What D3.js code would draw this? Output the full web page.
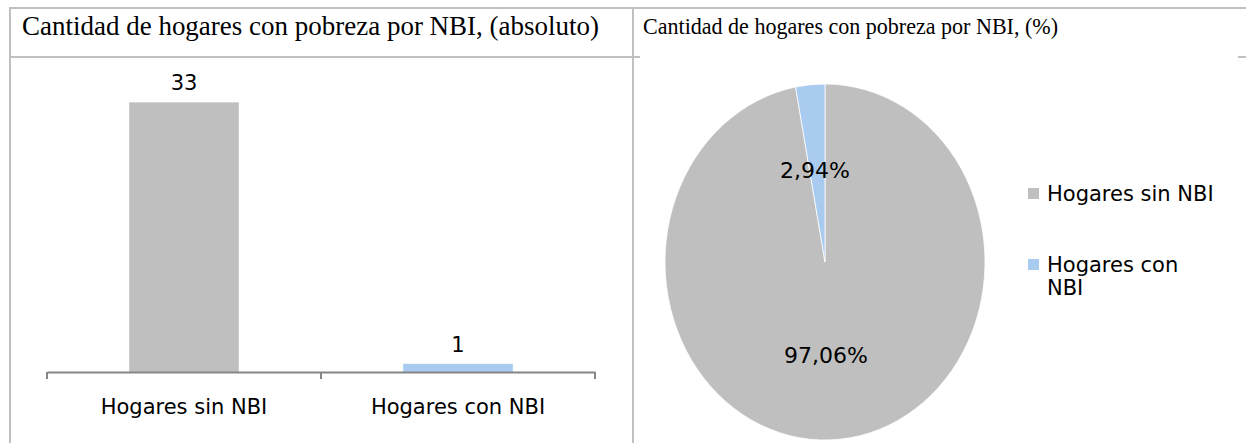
<!DOCTYPE html>
<html>
<head>
<meta charset="utf-8">
<script src="https://cdn.jsdelivr.net/npm/d3@7"></script>
<style>
  body { margin: 0; background: #fff; }
  svg text { fill: #000; }
</style>
</head>
<body>
<div id="chart"></div>
<script>
// Data
const categories = ["Hogares sin NBI", "Hogares con NBI"];
const counts = [33, 1];
const percentLabels = ["97,06%", "2,94%"];
const barColors = ["#BFBFBF", "#A9CBEF"];
const titles = ["Cantidad de hogares con pobreza por NBI, (absoluto)", "Cantidad de hogares con pobreza por NBI, (%)"];

const W = 1246, H = 443;
const sansFont = "Tahoma, 'DejaVu Sans', sans-serif";
const serifFont = "'Liberation Serif', 'Times New Roman', serif";

const svg = d3.select("#chart")
    .append("svg")
    .attr("width", W)
    .attr("height", H);

// Table frame
const border = "#C0C0C0";
svg.append("line").attr("x1", 9).attr("x2", W).attr("y1", 8).attr("y2", 8)
    .attr("stroke", border).attr("stroke-width", 2);
svg.append("line").attr("x1", 10).attr("x2", 10).attr("y1", 8).attr("y2", H)
    .attr("stroke", border).attr("stroke-width", 2);
svg.append("line").attr("x1", 633).attr("x2", 633).attr("y1", 8).attr("y2", H)
    .attr("stroke", border).attr("stroke-width", 2);
svg.append("line").attr("x1", 10).attr("x2", 640).attr("y1", 57).attr("y2", 57)
    .attr("stroke", border).attr("stroke-width", 2);
svg.append("line").attr("x1", 1238).attr("x2", W).attr("y1", 57).attr("y2", 57)
    .attr("stroke", border).attr("stroke-width", 2);

// Titles
svg.append("text")
    .attr("x", 22).attr("y", 35)
    .attr("font-family", serifFont).attr("font-size", 27)
    .attr("textLength", 577).attr("lengthAdjust", "spacingAndGlyphs")
    .text(titles[0]);
svg.append("text")
    .attr("x", 643).attr("y", 34)
    .attr("font-family", serifFont).attr("font-size", 24)
    .attr("textLength", 415).attr("lengthAdjust", "spacingAndGlyphs")
    .text(titles[1]);

// ---- Bar chart ----
const x = d3.scaleBand()
    .domain(categories)
    .range([47, 595])
    .paddingInner(0.6)
    .paddingOuter(0.3);

const y = d3.scaleLinear()
    .domain([0, 35])
    .range([372, 86]);

const bars = svg.append("g");
bars.selectAll("rect")
    .data(categories)
    .enter()
    .append("rect")
    .attr("x", d => x(d))
    .attr("width", x.bandwidth())
    .attr("y", (d, i) => y(counts[i]))
    .attr("height", (d, i) => y(0) - y(counts[i]))
    .attr("fill", (d, i) => barColors[i]);

bars.selectAll(".val")
    .data(categories)
    .enter()
    .append("text")
    .attr("class", "val")
    .attr("x", d => x(d) + x.bandwidth() / 2)
    .attr("y", (d, i) => y(counts[i]) - 12)
    .attr("text-anchor", "middle")
    .attr("font-family", sansFont).attr("font-size", 21)
    .text((d, i) => counts[i]);

// Category axis
const axis = svg.append("g")
    .attr("transform", "translate(0,372)")
    .call(d3.axisBottom(x.copy().paddingInner(0).paddingOuter(0)).tickSize(0).tickPadding(27));
axis.select(".domain").attr("stroke", "#868686").attr("stroke-width", 2);
axis.selectAll("text")
    .attr("font-family", sansFont).attr("font-size", 21).attr("fill", "#000");
// tick marks at the band boundaries
const edges = [47, 321, 595];
axis.selectAll(".edge")
    .data(edges)
    .enter()
    .append("line")
    .attr("x1", d => d).attr("x2", d => d)
    .attr("y1", 0).attr("y2", 7)
    .attr("stroke", "#868686").attr("stroke-width", 2);

// ---- Pie chart ----
const cx = 825, cy = 262, rx = 160, ry = 178;
const pie = d3.pie().sort(null).value(d => d)(counts);
const arc = d3.arc().innerRadius(0).outerRadius(ry);

const pieG = svg.append("g")
    .attr("transform", `translate(${cx},${cy}) scale(${rx / ry},1)`);
pieG.selectAll("path")
    .data(pie)
    .enter()
    .append("path")
    .attr("d", arc)
    .attr("fill", (d, i) => barColors[i])
    .attr("stroke", "#fff")
    .attr("stroke-width", 0.8);

// Pie labels
const labelPos = [[cx + 1, cy + 93], [cx - 10, cy - 92]];
svg.selectAll(".plab")
    .data(percentLabels)
    .enter()
    .append("text")
    .attr("class", "plab")
    .attr("x", (d, i) => labelPos[i][0])
    .attr("y", (d, i) => labelPos[i][1] + 8)
    .attr("text-anchor", "middle")
    .attr("font-family", sansFont).attr("font-size", 22)
    .text(d => d);

// Legend
const legend = svg.append("g").attr("transform", "translate(1028,0)");
const legendRows = [{ y: 194, lines: ["Hogares sin NBI"] }, { y: 265, lines: ["Hogares con", "NBI"] }];
legendRows.forEach((r, i) => {
    legend.append("rect")
        .attr("x", 0).attr("y", r.y - 6)
        .attr("width", 11).attr("height", 11)
        .attr("fill", barColors[i]);
    r.lines.forEach((t, j) => {
        legend.append("text")
            .attr("x", 19).attr("y", r.y + 7 + j * 23)
            .attr("font-family", sansFont).attr("font-size", 21)
            .text(t);
    });
});
</script>
</body>
</html>
